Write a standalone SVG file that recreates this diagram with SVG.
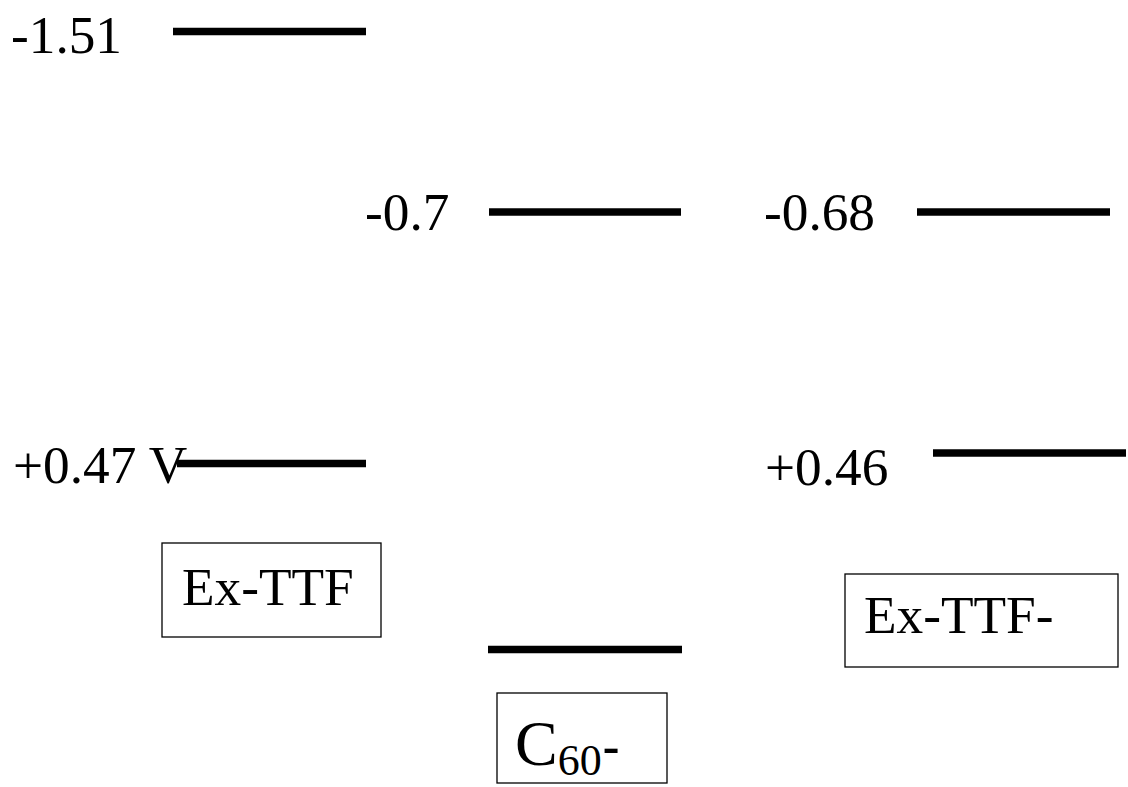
<svg xmlns="http://www.w3.org/2000/svg" width="1128" height="787" viewBox="0 0 1128 787">
<style>
text{font-family:"Liberation Serif","Times New Roman",serif;fill:#000}
.lbl{font-size:53.3px}
.lvl{stroke:#000;stroke-width:7.5;fill:none}
.box{fill:#fff;stroke:#000;stroke-width:1.3}
</style>
<rect width="1128" height="787" fill="#fff"/>
<g id="connectors">
<line class="lvl" x1="173" y1="31.5" x2="366" y2="31.5"/>
<line class="lvl" x1="489" y1="212" x2="681" y2="212"/>
<line class="lvl" x1="917" y1="212" x2="1110" y2="212"/>
<line class="lvl" x1="177" y1="463.5" x2="366" y2="463.5"/>
<line class="lvl" x1="933" y1="453" x2="1126" y2="453"/>
<line class="lvl" x1="488" y1="649.5" x2="682" y2="649.5"/>
</g>
<g id="label-m151"><text class="lbl" x="11" y="53">-1.51</text></g>
<g id="label-m07"><text class="lbl" x="365" y="230">-0.7</text></g>
<g id="label-m068"><text class="lbl" x="764" y="230">-0.68</text></g>
<g id="label-p047"><text class="lbl" x="13" y="483">+0.47 V</text></g>
<g id="label-p046"><text class="lbl" x="765" y="485">+0.46</text></g>
<g id="node-exttf">
<rect class="box" x="162" y="543" width="219" height="94"/>
<text class="lbl" x="182" y="605">Ex-TTF</text>
</g>
<g id="node-exttf-minus">
<rect class="box" x="845" y="574" width="273" height="93"/>
<text class="lbl" x="864" y="633">Ex-TTF-</text>
</g>
<g id="node-c60">
<rect class="box" x="497" y="693" width="170" height="90"/>
<text x="515" y="765" style="font-size:64px">C<tspan dy="10" style="font-size:44px">60</tspan><tspan dx="1" dy="-12" style="font-size:50px;font-weight:bold">-</tspan></text>
</g>
</svg>
